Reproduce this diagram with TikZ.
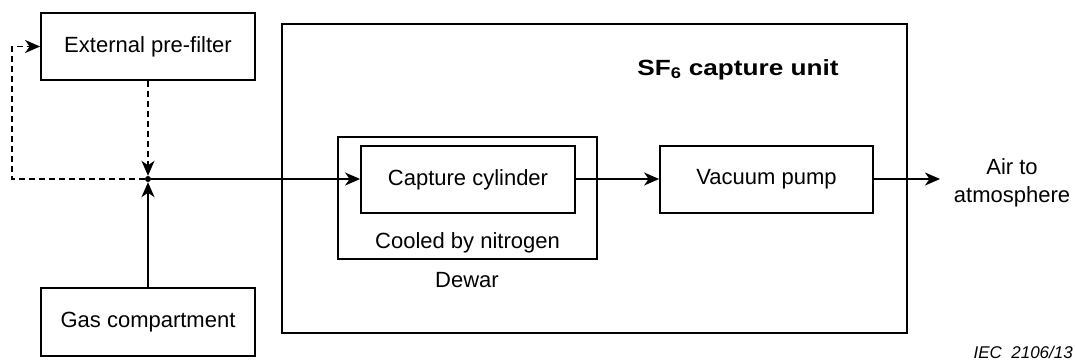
\documentclass[tikz,border=0pt]{standalone}
\usepackage{fontspec}
\usepackage{graphicx}
\setmainfont{Liberation Sans}
\usetikzlibrary{arrows.meta}
\tikzset{
  blk/.style={draw, line width=1.8pt, inner sep=0pt, font=\fontsize{22}{26}\selectfont},
  flow/.style={line width=1.8pt, -{Stealth[length=15pt,width=13pt,inset=4.5pt]}},
  dflow/.style={flow, dash pattern=on 6pt off 4pt},
  txt/.style={inner sep=0pt, font=\fontsize{22}{28}\selectfont},
}
\begin{document}
\begin{tikzpicture}[x=1pt,y=-1pt]
\useasboundingbox (0,0) rectangle (1075,360);
% boxes
\node[blk, minimum width=214pt, minimum height=67pt] (pre) at (148,46.5) {External pre-filter};
\node[blk, minimum width=214pt, minimum height=68pt] (gas) at (148,322) {Gas compartment};
\node[blk, minimum width=625pt, minimum height=309pt] (unit) at (594.5,178.5) {};
\node[blk, minimum width=259pt, minimum height=122pt] (dewar) at (467.5,198) {};
\node[blk, minimum width=214pt, minimum height=67pt] (cyl) at (468,179.5) {Capture cylinder};
\node[blk, minimum width=213pt, minimum height=67pt] (pump) at (766.5,179.5) {Vacuum pump};
% labels
\node[txt, anchor=base] (cool) at (467.5,248) {Cooled by nitrogen};
\node[txt, anchor=base] (dewlab) at (467,287) {Dewar};
\node[txt, anchor=base, font=\fontsize{22}{26}\selectfont\bfseries] (title) at (738,75) {\scalebox{1.19}[1]{SF\textsubscript{6} capture unit}};
\node[txt, align=center, anchor=center] (air) at (1012,182.4) {Air to\\atmosphere};
\node[inner sep=0pt, anchor=base east, font=\fontsize{17}{19}\selectfont\itshape] (iec) at (1073,358) {IEC\ \ 2106/13};
% junction
\node[circle, fill, inner sep=0pt, minimum size=6pt] (j) at (148,179) {};
\coordinate (lc) at (12,179);
\coordinate (out) at (940,179);
% connectors
\draw[dflow] (j) -- (lc) |- (pre.west);
\draw[dflow] (pre.south) -- (j);
\draw[flow] (gas.north) -- (j);
\draw[flow] (j) -- (j -| cyl.west);
\draw[flow] (cyl.east |- j) -- (pump.west |- j);
\draw[flow] (pump.east |- j) -- (out);
\end{tikzpicture}
\end{document}
